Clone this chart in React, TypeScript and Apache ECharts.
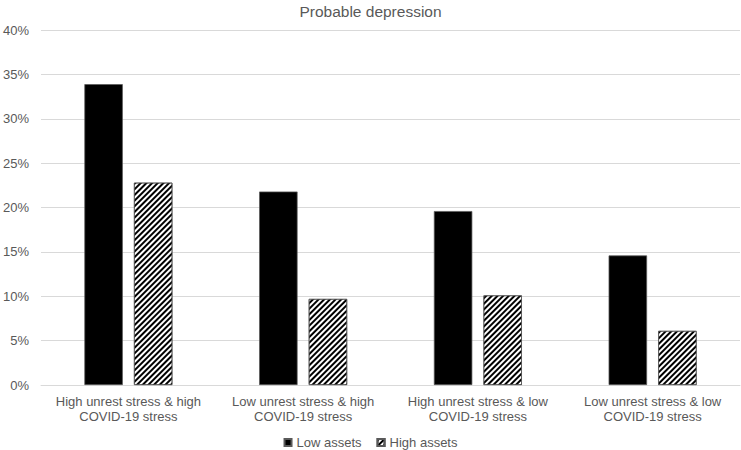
import React, { useEffect, useRef } from "react";
import * as echarts from "echarts";

const categories = [
  "High unrest stress & high\nCOVID-19 stress",
  "Low unrest stress & high\nCOVID-19 stress",
  "High unrest stress & low\nCOVID-19 stress",
  "Low unrest stress & low\nCOVID-19 stress",
];
const lowAssets = [33.9, 21.8, 19.6, 14.6];
const highAssets = [22.8, 9.7, 10.1, 6.1];
const seriesNames = ["Low assets", "High assets"];
const yTicks = { min: 0, max: 40, interval: 5 };

const FONT = "'Liberation Sans', Arial, sans-serif";
const TEXT = "#595959";

export default function App() {
  const ref = useRef<HTMLDivElement>(null);
  useEffect(() => {
    document.body.style.margin = "0";
    const chart = echarts.init(ref.current!, null, { renderer: "svg" });
    chart.setOption({
      animation: false,
      backgroundColor: "#ffffff",
      textStyle: { fontFamily: FONT },
      title: {
        text: "Probable depression",
        left: "center",
        top: -2,
        textStyle: { fontFamily: FONT, fontSize: 15.5, fontWeight: "normal", color: TEXT },
      },
      legend: {
        top: 431,
        left: "center",
        itemWidth: 7,
        itemHeight: 7,
        itemGap: 15,
        icon: "rect",
        textStyle: { fontFamily: FONT, fontSize: 13, color: TEXT },
        data: seriesNames,
      },
      grid: { left: 39, right: 1, top: 30, bottom: 65 },
      xAxis: {
        type: "category",
        data: categories,
        axisLine: { lineStyle: { color: "#d9d9d9" } },
        axisTick: { show: false },
        axisLabel: { color: TEXT, fontFamily: FONT, fontSize: 13, lineHeight: 15, margin: 9, interval: 0 },
      },
      yAxis: {
        type: "value",
        min: yTicks.min,
        max: yTicks.max,
        interval: yTicks.interval,
        axisLine: { show: false },
        axisTick: { show: false },
        splitLine: { lineStyle: { color: "#d9d9d9" } },
        axisLabel: { color: TEXT, fontFamily: FONT, fontSize: 13, margin: 12, formatter: "{value}%" },
      },
      series: [
        {
          name: seriesNames[0],
          type: "bar",
          data: lowAssets,
          barWidth: "22%",
          barGap: "29%",
          itemStyle: { color: "#000000", borderColor: "#595959", borderWidth: 0.75 },
        },
        {
          name: seriesNames[1],
          type: "bar",
          data: highAssets,
          barWidth: "22%",
          barGap: "29%",
          itemStyle: {
            color: "#ffffff",
            borderColor: "#595959",
            borderWidth: 0.75,
            decal: {
              symbol: "rect",
              color: "#000000",
              backgroundColor: "#ffffff",
              dashArrayX: [1, 0],
              dashArrayY: [1.5, 1.5],
              rotation: -Math.PI / 4,
              symbolSize: 1,
            },
          },
        },
      ],
    });
    return () => chart.dispose();
  }, []);
  return <div ref={ref} style={{ width: 741, height: 450 }} />;
}
